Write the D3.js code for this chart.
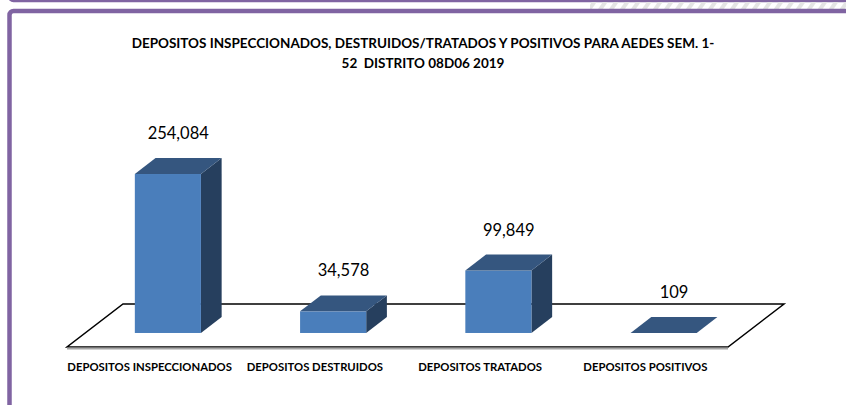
<!DOCTYPE html>
<html>
<head>
<meta charset="utf-8">
<script src="https://cdn.jsdelivr.net/npm/d3@7"></script>
<style>
  body { margin: 0; background: #fff; }
  svg { display: block; font-family: Lato, "Liberation Sans", sans-serif; }
</style>
</head>
<body>
<svg width="846" height="405"></svg>
<script>
var categories = ["DEPOSITOS INSPECCIONADOS", "DEPOSITOS DESTRUIDOS", "DEPOSITOS TRATADOS", "DEPOSITOS POSITIVOS"];
var values = [254084, 34578, 99849, 109];
var titleLines = ["DEPOSITOS INSPECCIONADOS, DESTRUIDOS/TRATADOS Y POSITIVOS PARA AEDES SEM. 1-", "52  DISTRITO 08D06 2019"];

var svg = d3.select("svg"),
    purple = "#8064a2";

// frame
svg.append("rect")
  .attr("x", 9.5).attr("y", -40).attr("width", 900).attr("height", 40.5)
  .attr("rx", 4).attr("fill", "none")
  .attr("stroke", purple).attr("stroke-width", 3.5);

var defs = svg.append("defs");
var pat = defs.append("pattern")
  .attr("id", "stripes")
  .attr("patternUnits", "userSpaceOnUse")
  .attr("width", 9).attr("height", 9)
  .attr("patternTransform", "rotate(35)");
pat.append("rect").attr("width", 4).attr("height", 9).attr("fill", "#e4e4e4");
svg.append("rect")
  .attr("x", 590).attr("y", 2).attr("width", 256).attr("height", 7)
  .attr("fill", "url(#stripes)");

svg.append("rect")
  .attr("x", 9.5).attr("y", 11).attr("width", 900).attr("height", 500)
  .attr("rx", 4).attr("fill", "#fff")
  .attr("stroke", purple).attr("stroke-width", 4.5);

// title
svg.append("g")
  .selectAll("text")
  .data(titleLines)
  .enter().append("text")
  .attr("x", 423)
  .attr("y", function(d, i) { return 47.5 + i * 20; })
  .attr("text-anchor", "middle")
  .attr("font-weight", "bold")
  .attr("font-size", 13.5)
  .attr("fill", "#000")
  .style("white-space", "pre")
  .text(function(d) { return d; });

// 3d floor
var floorLeft = 67, floorRight = 728, floorFront = 347,
    depthX = 56, depthY = -43;

var x = d3.scaleBand()
  .domain(categories)
  .range([floorLeft, floorRight])
  .paddingInner(0)
  .paddingOuter(0);

var y = d3.scaleLinear()
  .domain([0, 300000])
  .range([0, 187.7]);

function pt(px, py) { return px + "," + py; }

svg.append("polygon")
  .attr("points", [
    pt(floorLeft, floorFront),
    pt(floorRight, floorFront),
    pt(floorRight + depthX, floorFront + depthY),
    pt(floorLeft + depthX, floorFront + depthY)
  ].join(" "))
  .attr("fill", "#fff")
  .attr("stroke", "#000")
  .attr("stroke-width", 1.5)
  .attr("stroke-linejoin", "miter");

svg.append("line")
  .attr("x1", floorLeft).attr("x2", floorRight)
  .attr("y1", floorFront + 1.5).attr("y2", floorFront + 1.5)
  .attr("stroke", "#a6a6a6").attr("stroke-width", 2);

// bars
var barFront = 0.326, barDepth = 0.37, barWidth = 0.4;

var bars = svg.append("g")
  .selectAll("g")
  .data(categories.map(function(c, i) { return {cat: c, value: values[i]}; }))
  .enter().append("g")
  .attr("class", "bar");

function geo(d) {
  var x0 = x(d.cat) + x.bandwidth() * (1 - barWidth) / 2 + depthX * barFront,
      x1 = x0 + x.bandwidth() * barWidth,
      yb = floorFront + depthY * barFront,
      yt = yb - y(d.value),
      dx = depthX * barDepth,
      dy = depthY * barDepth;
  return {x0: x0, x1: x1, yb: yb, yt: yt, dx: dx, dy: dy};
}

// side face
bars.append("polygon")
  .attr("points", function(d) {
    var g = geo(d);
    return [pt(g.x1, g.yb), pt(g.x1 + g.dx, g.yb + g.dy), pt(g.x1 + g.dx, g.yt + g.dy), pt(g.x1, g.yt)].join(" ");
  })
  .attr("fill", "#263f5e");

// front face
bars.append("rect")
  .attr("x", function(d) { return geo(d).x0; })
  .attr("y", function(d) { return geo(d).yt; })
  .attr("width", x.bandwidth() * barWidth)
  .attr("height", function(d) { return y(d.value); })
  .attr("fill", "#4a7ebb");

// top face
bars.append("polygon")
  .attr("points", function(d) {
    var g = geo(d);
    return [pt(g.x0, g.yt), pt(g.x1, g.yt), pt(g.x1 + g.dx, g.yt + g.dy), pt(g.x0 + g.dx, g.yt + g.dy)].join(" ");
  })
  .attr("fill", "#35567f");

// value labels
bars.append("text")
  .attr("x", function(d) { var g = geo(d); return (g.x0 + g.x1 + g.dx) / 2; })
  .attr("y", function(d) { var g = geo(d); return g.yt + g.dy - 19; })
  .attr("text-anchor", "middle")
  .attr("font-size", 16.5)
  .attr("fill", "#000")
  .text(function(d) { return d3.format(",")(d.value); });

// category labels
svg.append("g")
  .selectAll("text")
  .data(categories)
  .enter().append("text")
  .attr("x", function(d) { return x(d) + x.bandwidth() / 2; })
  .attr("y", 370.5)
  .attr("text-anchor", "middle")
  .attr("font-weight", "bold")
  .attr("font-size", 11.3)
  .attr("fill", "#000")
  .text(function(d) { return d; });
</script>
</body>
</html>
